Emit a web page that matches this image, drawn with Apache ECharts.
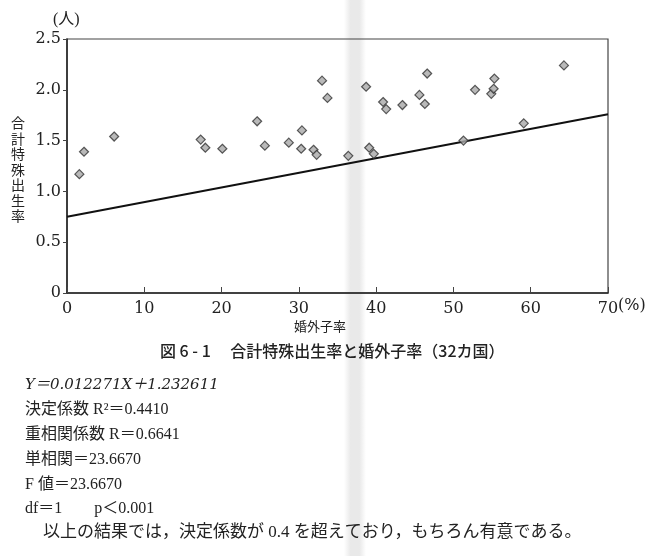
<!DOCTYPE html>
<html>
<head>
<meta charset="utf-8">
<script src="https://cdn.jsdelivr.net/npm/echarts@6/dist/echarts.min.js"></script>
<style>
html,body{margin:0;padding:0;background:#fff;}
#c{width:660px;height:556px;}
</style>
</head>
<body>
<div id="c"></div>
<script>
// 婚外子率 (%)
const outOfWedlock = [1.6, 2.2, 6.1, 17.3, 17.9, 20.1, 24.6, 25.6, 28.7, 30.4, 30.3, 31.9, 32.3, 33.0, 33.7, 36.4,
  38.7, 39.1, 39.7, 40.9, 41.3, 43.4, 45.6, 46.3, 46.6, 51.3, 52.8, 54.9, 55.2, 55.3, 59.1, 64.3];
// 合計特殊出生率 (人)
const fertility = [1.17, 1.39, 1.54, 1.51, 1.43, 1.42, 1.69, 1.45, 1.48, 1.60, 1.42, 1.41, 1.36, 2.09, 1.92, 1.35,
  2.03, 1.43, 1.37, 1.88, 1.81, 1.85, 1.95, 1.86, 2.16, 1.50, 2.00, 1.96, 2.01, 2.11, 1.67, 2.24];
// regression line as drawn
const lineX = [0, 70];
const lineY = [0.75, 1.76];
const xTicks = [0, 10, 20, 30, 40, 50, 60, 70];
const yTicks = [0, 0.5, 1.0, 1.5, 2.0, 2.5];

const serif = "'Liberation Serif', 'Noto Sans CJK JP', serif";
const dserif = "'DejaVu Serif', 'Noto Sans CJK JP', serif";
const jp = "'Noto Sans CJK JP', sans-serif";

const points = outOfWedlock.map((x, i) => [x, fertility[i]]);
const line = lineX.map((x, i) => [x, lineY[i]]);

const equation = 'Y＝0.012271X＋1.232611';
const statLines = [
  '決定係数 R²＝0.4410',
  '重相関係数 R＝0.6641',
  '単相関＝23.6670',
  'F 値＝23.6670',
  'df＝1　　p＜0.001'
];
const conclusion = '以上の結果では，決定係数が 0.4 を超えており，もちろん有意である。';
const caption = '図 6 - 1　 合計特殊出生率と婚外子率（32カ国）';

const graphics = [
  {type:'rect', left:344, top:0, shape:{width:22, height:556}, z:-10, silent:true,
   style:{fill:{type:'linear',x:0,y:0,x2:1,y2:0,colorStops:[{offset:0,color:'rgba(200,200,200,0)'},{offset:0.3,color:'rgba(200,200,200,0.4)'},{offset:0.7,color:'rgba(200,200,200,0.4)'},{offset:1,color:'rgba(200,200,200,0)'}]}}},
  {type:'text', left:53, top:12, style:{text:'(人)', font:"16px " + serif, fill:'#222'}},
  {type:'text', left:11, top:115, style:{text:'合\n計\n特\n殊\n出\n生\n率', font:"14px " + jp, lineHeight:15.5, fill:'#222'}},
  {type:'text', left:618, top:298, style:{text:'(%)', font:"16px " + dserif, fill:'#222'}},
  {type:'text', left:294, top:320, style:{text:'婚外子率', font:"13px " + jp, fill:'#222'}},
  {type:'text', left:160, top:343, style:{text:caption, font:"500 16px " + jp, fill:'#222'}},
  {type:'text', left:25, top:378, style:{text:equation, font:"italic 15px " + dserif, fill:'#222'}},
];
statLines.forEach((t, i) => {
  graphics.push({type:'text', left:25, top:402 + i * 24.8, style:{text:t, font:"16px " + serif, fill:'#222'}});
});
graphics.push({type:'text', left:43, top:524, style:{text:conclusion, font:"17px " + serif, fill:'#222'}});

const chart = echarts.init(document.getElementById('c'), null, {renderer:'canvas'});
chart.setOption({
  backgroundColor:'#fff',
  animation:false,
  grid:{left:67, right:52, top:39, bottom:263, show:true, borderColor:'#444', borderWidth:1.2, backgroundColor:'transparent'},
  xAxis:{
    type:'value', min:xTicks[0], max:xTicks[xTicks.length-1], interval:10,
    axisLine:{show:true, lineStyle:{color:'#222', width:1.5}},
    axisTick:{show:true, inside:true, length:6, lineStyle:{color:'#444'}},
    splitLine:{show:false},
    axisLabel:{fontFamily:dserif, fontSize:16, color:'#222', margin:8}
  },
  yAxis:{
    type:'value', min:yTicks[0], max:yTicks[yTicks.length-1], interval:0.5,
    axisLine:{show:true, lineStyle:{color:'#222', width:1.5}},
    axisTick:{show:true, inside:false, length:4, lineStyle:{color:'#444'}},
    splitLine:{show:false},
    axisLabel:{fontFamily:dserif, fontSize:16, color:'#222', margin:6,
      formatter:v => v === 0 ? '0' : v.toFixed(1)}
  },
  graphic:graphics,
  series:[
    {type:'line', data:line, symbol:'none', lineStyle:{color:'#111', width:2}, z:2, silent:true},
    {type:'scatter', data:points, symbol:'diamond', symbolSize:9,
     itemStyle:{color:'#a8a8a8', borderColor:'#333', borderWidth:1.2}, z:3}
  ]
});
</script>
</body>
</html>
